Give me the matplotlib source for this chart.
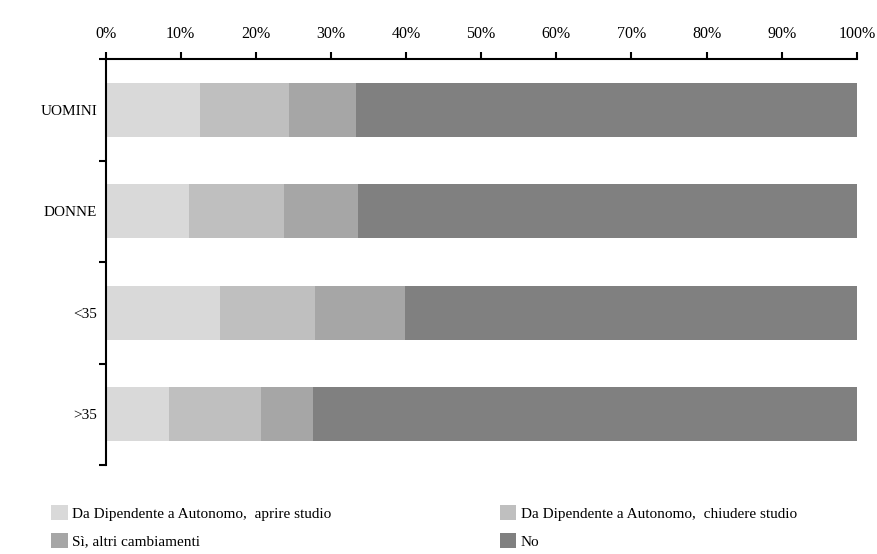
import numpy as np
from matplotlib import pyplot as plt
from matplotlib.patches import Patch

plt.rcParams['font.family'] = ['Liberation Serif', 'DejaVu Serif']

# Data: shares (%) per group
groups = ["UOMINI", "DONNE", "<35", ">35"]
series_names = ["Da Dipendente a Autonomo,  aprire studio",
                "Da Dipendente a Autonomo,  chiudere studio",
                "Sì, altri cambiamenti",
                "No"]
aprire = [12.6, 11.1, 15.3, 8.5]
chiudere = [11.8, 12.7, 12.6, 12.2]
altri = [8.9, 9.8, 12.0, 6.9]
no = [66.7, 66.4, 60.1, 72.4]
colors = ["#D9D9D9", "#BFBFBF", "#A6A6A6", "#808080"]

fig = plt.figure(figsize=(8.77, 5.54), dpi=100)
ax = fig.add_axes([0.1203, 0.1606, 0.8567, 0.7329])

y = np.arange(len(groups))
left = np.zeros(len(groups))
for vals, col in zip([aprire, chiudere, altri, no], colors):
    ax.barh(y, vals, left=left, height=0.53, color=col, edgecolor="none")
    left += np.array(vals)

ax.set_xlim(0, 100)
ax.set_ylim(3.5, -0.5)
ax.xaxis.tick_top()
ax.set_xticks(np.arange(0, 101, 10))
ax.set_xticklabels([f"{v}%" for v in range(0, 101, 10)])
ax.tick_params(axis="x", direction="out", length=5, width=1.5, pad=7, labelsize=11.5)

ax.set_yticks(y)
ax.set_yticklabels(groups)
ax.tick_params(axis="y", which="major", length=0, pad=6, labelsize=11)
ax.set_yticks(np.arange(-0.5, 4.0, 1.0), minor=True)
ax.tick_params(axis="y", which="minor", direction="out", length=5, width=1.5)

for s in ["right", "bottom"]:
    ax.spines[s].set_visible(False)
ax.spines["top"].set_linewidth(1.5)
ax.spines["left"].set_linewidth(1.5)

handles = [Patch(facecolor=c, edgecolor="none") for c in colors]
order = [0, 2, 1, 3]
fig.legend([handles[i] for i in order], [series_names[i] for i in order],
           loc="upper left", bbox_to_anchor=(0.058, 0.088), ncol=2, frameon=False,
           fontsize=11, handlelength=1.1, handleheight=1.1, handletextpad=0.3,
           columnspacing=11.0, labelspacing=0.8, borderaxespad=0, borderpad=0)

plt.savefig("out.png", dpi=100)
